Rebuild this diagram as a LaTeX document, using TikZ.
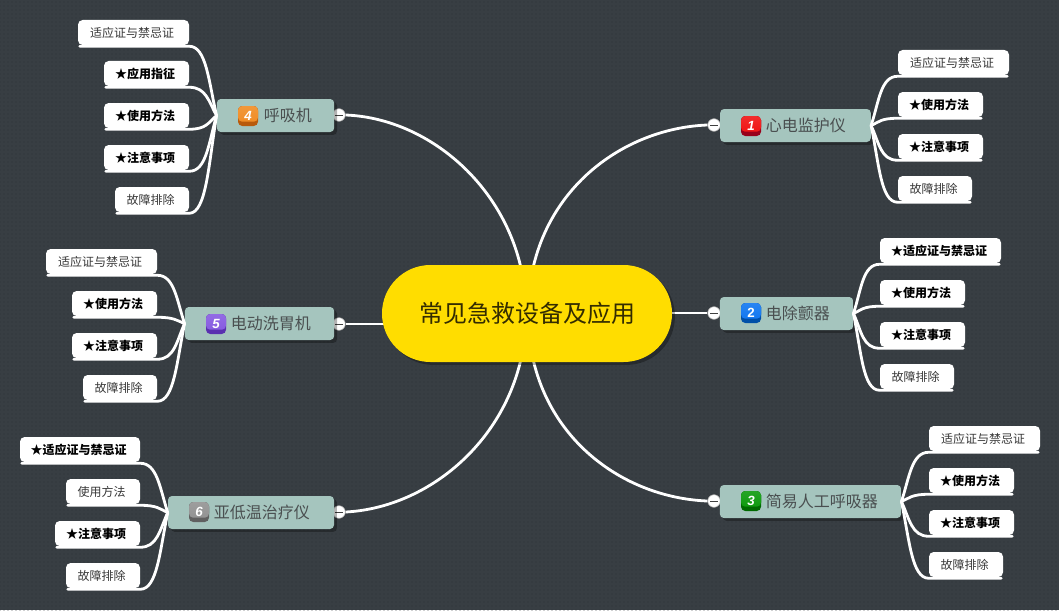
\documentclass[tikz,border=0pt]{standalone}
\usepackage{fontspec}
\setmainfont{Noto Sans CJK SC}
\newfontfamily\digitfont{Liberation Sans}
\usetikzlibrary{patterns.meta,shadows,shapes.misc,calc}
\definecolor{bgc}{HTML}{383E43}
\definecolor{dotc}{HTML}{2F3438}
\definecolor{hubc}{HTML}{FFDD00}
\definecolor{mainc}{HTML}{A5C5BE}
\definecolor{maintxt}{HTML}{4A4F50}
\definecolor{dark1}{HTML}{98001A}\definecolor{top1}{HTML}{F01010}
\definecolor{dark2}{HTML}{004FA8}\definecolor{top2}{HTML}{0C74F0}
\definecolor{dark3}{HTML}{006A00}\definecolor{top3}{HTML}{089808}
\definecolor{dark4}{HTML}{B85A0C}\definecolor{top4}{HTML}{F08A20}
\definecolor{dark5}{HTML}{5A30B0}\definecolor{top5}{HTML}{8458E0}
\definecolor{dark6}{HTML}{606060}\definecolor{top6}{HTML}{909090}
\tikzset{
  softshadow/.style={drop shadow={shadow xshift=2.2pt,shadow yshift=-2.2pt,fill=black,opacity=.3}},
  hubbox/.style={rounded rectangle,fill=hubc,minimum width=217.5pt,minimum height=72.75pt,inner sep=0pt,font=\fontsize{18}{18}\selectfont,text=black!80!hubc,softshadow},
  mainbox/.style={rectangle,rounded corners=3pt,fill=mainc,inner sep=0pt,minimum height=24.75pt,softshadow},
  maintext/.style={inner sep=0pt,anchor=west,font=\fontsize{12}{12}\selectfont,text=maintxt},
  leafbox/.style={rectangle,rounded corners=3.5pt,fill=white,inner sep=0pt,minimum height=18.75pt,font=\fontsize{9}{9}\selectfont,text=black!78},
  starbox/.style={leafbox,font=\fontsize{9}{9}\selectfont\bfseries,text=black},
  branch/.style={draw=white,line width=2.1pt,line cap=round,line join=round},
  trunk/.style={draw=white,line width=2.1pt},
  foldmark/.style={circle,draw=black!35,fill=white,line width=.4pt,inner sep=0pt,minimum size=9.5pt,
    path picture={\draw[black!75,line width=.6pt] ([xshift=-3pt]path picture bounding box.center) -- ([xshift=3pt]path picture bounding box.center);}},
}
% icon: name, x, y, index, digit
\newcommand{\numicon}[5]{%
  \node[rectangle,rounded corners=3.2pt,fill=dark#4,minimum size=15pt,inner sep=0pt,text=white,
    font=\digitfont\fontsize{10}{10}\selectfont\bfseries\itshape,
    path picture={\fill[top color=top#4!88!white,bottom color=top#4] (path picture bounding box.north west) rectangle ([yshift=3.2pt]path picture bounding box.south east);}] (#1) at (#2,#3) {#5};}
% right leaf: name, x1, x2, ytop, text, parent, parent y, style
\newcommand{\leafR}[8]{%
  \node[#8,minimum width={(#3-#2)*0.75pt}] (#1) at ({(#2+#3)/2},{#4+12.5}) {\raisebox{-0.4pt}{#5}\kern2pt};
  \draw[branch] (#6.east) .. controls +(8,{(#4+26-#7)*0.5}) and +(-17,0) .. ([yshift=-0.75pt]#1.south west) -- ([yshift=-0.75pt,xshift=-1.5pt]#1.south east);}
% left leaf
\newcommand{\leafL}[8]{%
  \node[#8,minimum width={(#3-#2)*0.75pt}] (#1) at ({(#2+#3)/2},{#4+12.5}) {\raisebox{-0.4pt}{#5}\kern2pt};
  \draw[branch] (#6.west) .. controls +(-8,{(#4+26-#7)*0.5}) and +(17,0) .. ([yshift=-0.75pt]#1.south east) -- ([yshift=-0.75pt,xshift=1.5pt]#1.south west);}
\begin{document}
\begin{tikzpicture}[x=0.75pt,y=-0.75pt]
\useasboundingbox (0,0) rectangle (1059,610);
\fill[bgc] (0,0) rectangle (1059,610);
\fill[pattern={Dots[radius=0.42pt,distance=3pt]},pattern color=dotc] (0,0) rectangle (1059,610);

% fold marks and starting points
\node[foldmark] (f1) at (714,125) {};
\node[foldmark] (f2) at (714,313) {};
\node[foldmark] (f3) at (714,501) {};
\node[foldmark] (f4) at (339,115) {};
\node[foldmark] (f5) at (339,324) {};
\node[foldmark] (f6) at (339,512) {};
\coordinate (s1) at (533,268);
\coordinate (s2) at (668,313);
\coordinate (s3) at (533,359);
\coordinate (s4) at (521,268);
\coordinate (s5) at (386,324);
\coordinate (s6) at (521,359);
\draw[trunk] (s1) .. controls (553,180) and (630,128) .. (f1.west);
\draw[trunk] (s2) -- (f2.west);
\draw[trunk] (s3) .. controls (553,447) and (630,498) .. (f3.west);
\draw[trunk] (s4) .. controls (501,180) and (424,118) .. (f4.east);
\draw[trunk] (s5) -- (f5.east);
\draw[trunk] (s6) .. controls (501,447) and (424,508) .. (f6.east);

\node[hubbox] (hub) at (527,313.5) {\raisebox{1.8pt}{常见急救设备及应用}};

% main topics
\node[mainbox,minimum width=113pt] (m1) at (795.5,125.5) {};
\node[mainbox,minimum width=100pt] (m2) at (786.5,313.5) {};
\node[mainbox,minimum width=136pt] (m3) at (810.5,501.5) {};
\node[mainbox,minimum width=88pt] (m4) at (275.5,115.5) {};
\node[mainbox,minimum width=112pt] (m5) at (259.5,323.5) {};
\node[mainbox,minimum width=124.5pt] (m6) at (251,512.5) {};

\numicon{i1}{751}{126}{1}{1}
\numicon{i2}{751}{313}{2}{\upshape 2}
\numicon{i3}{751}{501}{3}{3}
\numicon{i4}{248}{116}{4}{4}
\numicon{i5}{216}{324}{5}{5}
\numicon{i6}{199}{512}{6}{6}

\node[maintext] (t1) at (765.5,125) {心电监护仪};
\node[maintext] (t2) at (765.5,313) {电除颤器};
\node[maintext] (t3) at (765.5,501) {简易人工呼吸器};
\node[maintext] (t4) at (263.5,115) {呼吸机};
\node[maintext] (t5) at (230.5,323) {电动洗胃机};
\node[maintext] (t6) at (213.5,512) {亚低温治疗仪};

% leaves group 1
\leafR{a1}{898}{1009}{50}{适应证与禁忌证}{m1}{125}{leafbox}
\leafR{a2}{898}{983}{92}{★使用方法}{m1}{125}{starbox}
\leafR{a3}{898}{983}{134}{★注意事项}{m1}{125}{starbox}
\leafR{a4}{898}{972}{176}{故障排除}{m1}{125}{leafbox}
% group 2
\leafR{b1}{880}{1001}{238}{★适应证与禁忌证}{m2}{313}{starbox}
\leafR{b2}{880}{965}{280}{★使用方法}{m2}{313}{starbox}
\leafR{b3}{880}{965}{322}{★注意事项}{m2}{313}{starbox}
\leafR{b4}{880}{954}{364}{故障排除}{m2}{313}{leafbox}
% group 3
\leafR{c1}{929}{1040}{426}{适应证与禁忌证}{m3}{501}{leafbox}
\leafR{c2}{929}{1014}{468}{★使用方法}{m3}{501}{starbox}
\leafR{c3}{929}{1014}{510}{★注意事项}{m3}{501}{starbox}
\leafR{c4}{929}{1003}{552}{故障排除}{m3}{501}{leafbox}
% group 4
\leafL{d1}{78}{189}{20}{适应证与禁忌证}{m4}{115}{leafbox}
\leafL{d2}{104}{189}{61}{★应用指征}{m4}{115}{starbox}
\leafL{d3}{104}{189}{103}{★使用方法}{m4}{115}{starbox}
\leafL{d4}{104}{189}{145}{★注意事项}{m4}{115}{starbox}
\leafL{d5}{115}{189}{187}{故障排除}{m4}{115}{leafbox}
% group 5
\leafL{e1}{46}{157}{249}{适应证与禁忌证}{m5}{323}{leafbox}
\leafL{e2}{72}{157}{291}{★使用方法}{m5}{323}{starbox}
\leafL{e3}{72}{157}{333}{★注意事项}{m5}{323}{starbox}
\leafL{e4}{83}{157}{375}{故障排除}{m5}{323}{leafbox}
% group 6
\leafL{g1}{20}{140}{437}{★适应证与禁忌证}{m6}{512}{starbox}
\leafL{g2}{66}{140}{479}{使用方法}{m6}{512}{leafbox}
\leafL{g3}{55}{140}{521}{★注意事项}{m6}{512}{starbox}
\leafL{g4}{66}{140}{563}{故障排除}{m6}{512}{leafbox}
\end{tikzpicture}
\end{document}
